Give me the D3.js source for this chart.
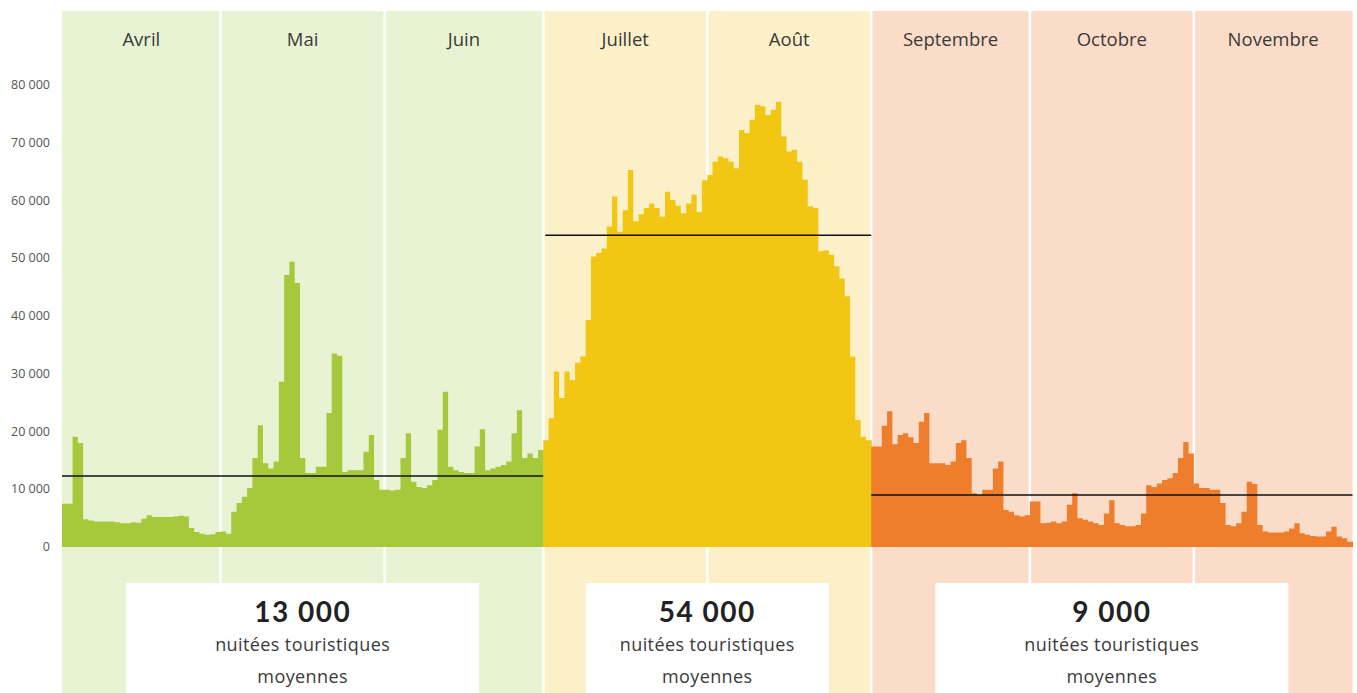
<!DOCTYPE html>
<html lang="fr">
<head>
  <meta charset="UTF-8" />
  <title>Nuitées touristiques par jour</title>
  <script src="https://d3js.org/d3.v7.min.js"></script>
  <style>
    body { margin: 0; padding: 0; background: #fff; font-family: "Open Sans", sans-serif; }
    svg { display: block; }
    .tick-label { font-size: 12.5px; fill: #555; }
    .month-label { font-size: 18.5px; fill: #3a3a3a; }
    .big { font-family: Lato, sans-serif; font-size: 28px; font-weight: 700; fill: #222; letter-spacing: 1.5px; }
    .sub { font-size: 18px; fill: #3a3a3a; letter-spacing: 0.4px; }
  </style>
</head>
<body>
<svg id="chart" width="1357" height="693"></svg>
<script>
// Daily values (nuitées), one array per month
const avril = [7500, 7500, 19100, 18000, 4800, 4600, 4400, 4400, 4400, 4400, 4300, 4100, 4100, 4300, 4200,
  4900, 5500, 5200, 5200, 5200, 5200, 5300, 5400, 5300, 3300, 2600, 2300, 2100, 2200, 2600];
const mai = [2700, 2300, 6100, 7600, 8700, 10200, 15400, 21100, 14500, 13600, 14800, 28600, 47100, 49400, 45700,
  15400, 12800, 12800, 13900, 13900, 23200, 33500, 33100, 13000, 13300, 13300, 13300, 16500, 19400, 11600, 9900];
const juin = [9900, 9800, 9900, 15400, 19700, 11300, 10400, 10200, 10700, 11600, 20300, 26900, 13900, 13300, 13000,
  12800, 12800, 17400, 20400, 13300, 13600, 13900, 14200, 14800, 19700, 23700, 15400, 16200, 15400, 16800];
const juillet = [18500, 22300, 30400, 25800, 30400, 28900, 31900, 33000, 39300, 50300, 50900, 51700, 55500, 60700, 54600,
  58300, 65300, 56400, 57600, 58700, 59500, 58700, 57200, 61500, 60100, 59100, 57800, 59500, 61000, 58000, 63500];
const aout = [64400, 66700, 67600, 67300, 66700, 65600, 72200, 71700, 74000, 76600, 76300, 74800, 75700, 77100, 71100,
  68500, 68800, 66700, 63600, 59000, 58700, 51200, 51400, 50600, 48600, 46500, 43400, 33000, 22000, 19100, 18500];
const septembre = [17400, 17400, 21000, 23500, 17800, 19400, 19700, 19000, 18000, 21700, 23200, 14500, 14500, 14500, 14200,
  14800, 18000, 18500, 15400, 9300, 9000, 9900, 9900, 13600, 14800, 6400, 6100, 5500, 5300, 5500];
const octobre = [7900, 7900, 4100, 4200, 4400, 4100, 4400, 7300, 9300, 5000, 4700, 4400, 4100, 3800, 5800,
  8100, 4100, 3800, 3600, 3600, 3800, 5800, 10700, 10400, 11000, 11600, 11900, 12800, 15400, 18200, 16200];
const novembre = [11000, 10200, 10200, 9900, 9900, 7600, 3800, 3600, 4100, 6100, 11300, 10900, 3800, 2700, 2500,
  2500, 2500, 2700, 3200, 4100, 2400, 2100, 1900, 1800, 1800, 2700, 3500, 1800, 1500, 900];

const mois = ["Avril", "Mai", "Juin", "Juillet", "Août", "Septembre", "Octobre", "Novembre"];
const moisSaison = [0, 0, 0, 1, 1, 2, 2, 2];           // season index of each month
const saisonMoyenne = [12300, 54000, 9000];           // mean line value per season
const saisonTexte = ["13 000", "54 000", "9 000"];
const yTicks = [0, 10000, 20000, 30000, 40000, 50000, 60000, 70000, 80000];

// colours per season: bar, background band
const barColors  = ["#a6c93b", "#f1c714", "#ee7d2c"];
const bandColors = ["#e7f3d2", "#fcf0c9", "#fadcc8"];

const monthData = [avril, mai, juin, juillet, aout, septembre, octobre, novembre];

// flatten into days
const days = [];
const monthStart = [];
monthData.forEach((arr, m) => {
  monthStart.push(days.length);
  arr.forEach(v => days.push({ i: days.length, v: v, s: moisSaison[m] }));
});
monthStart.push(days.length);

const svg = d3.select("#chart");
const x = d3.scaleLinear().domain([0, days.length]).range([62, 1352.5]);
const y = d3.scaleLinear().domain([0, 80000]).range([547, 85]);
const fmt = d => d3.format(",")(d).replace(/,/g, " ");

// month background bands
const bandTop = 11, bandBottom = 693;
svg.selectAll(".band").data(mois).enter().append("rect")
  .attr("x", (d, m) => x(monthStart[m]))
  .attr("width", (d, m) => x(monthStart[m + 1]) - x(monthStart[m]))
  .attr("y", bandTop).attr("height", bandBottom - bandTop)
  .attr("fill", (d, m) => bandColors[moisSaison[m]]);

// white month separators
svg.selectAll(".sep").data(monthStart.slice(1, -1)).enter().append("line")
  .attr("x1", d => x(d)).attr("x2", d => x(d))
  .attr("y1", bandTop).attr("y2", bandBottom)
  .attr("stroke", "#fff").attr("stroke-width", 2.5);

// month labels
svg.selectAll(".month-label").data(mois).enter().append("text")
  .attr("class", "month-label")
  .attr("x", (d, m) => (x(monthStart[m]) + x(monthStart[m + 1])) / 2)
  .attr("y", 46)
  .attr("text-anchor", "middle")
  .text(d => d);

// y tick labels
svg.selectAll(".tick-label").data(yTicks).enter().append("text")
  .attr("class", "tick-label")
  .attr("x", 50).attr("y", d => y(d) + 4)
  .attr("text-anchor", "end")
  .text(d => fmt(d));

// seasons: first/last day index
const seasons = [0, 1, 2].map(s => {
  const ms = moisSaison.map((v, m) => v === s ? m : -1).filter(m => m >= 0);
  return { s: s, a: monthStart[ms[0]], b: monthStart[ms[ms.length - 1] + 1] };
});

// daily values drawn as a stepped area per season (no seams between days)
const area = d3.area()
  .x(d => x(d.i)).y0(y(0)).y1(d => y(d.v))
  .curve(d3.curveStepAfter);
svg.selectAll(".season-area").data(seasons).enter().append("path")
  .attr("d", d => {
    const pts = days.slice(d.a, d.b);
    return area(pts.concat([{ i: d.b + 0.1, v: pts[pts.length - 1].v }]));
  })
  .attr("fill", d => barColors[d.s]);

// mean lines
svg.selectAll(".mean").data(seasons).enter().append("line")
  .attr("x1", d => x(d.a) + (d.s === 1 ? 2 : 0))
  .attr("x2", d => x(d.b))
  .attr("y1", d => y(saisonMoyenne[d.s])).attr("y2", d => y(saisonMoyenne[d.s]))
  .attr("stroke", "#111").attr("stroke-width", 1.5);

// summary boxes
const boxW = [353, 243, 353];
const box = svg.selectAll(".box").data(seasons).enter().append("g")
  .attr("transform", d => `translate(${(x(d.a) + x(d.b)) / 2},0)`);
box.append("rect")
  .attr("x", d => -boxW[d.s] / 2).attr("width", d => boxW[d.s])
  .attr("y", 583).attr("height", 120)
  .attr("fill", "#fff");
box.append("text").attr("class", "big").attr("text-anchor", "middle")
  .attr("y", 622).text(d => saisonTexte[d.s]);
box.append("text").attr("class", "sub").attr("text-anchor", "middle")
  .attr("y", 651).text("nuitées touristiques");
box.append("text").attr("class", "sub").attr("text-anchor", "middle")
  .attr("y", 683).text("moyennes");
</script>
</body>
</html>
